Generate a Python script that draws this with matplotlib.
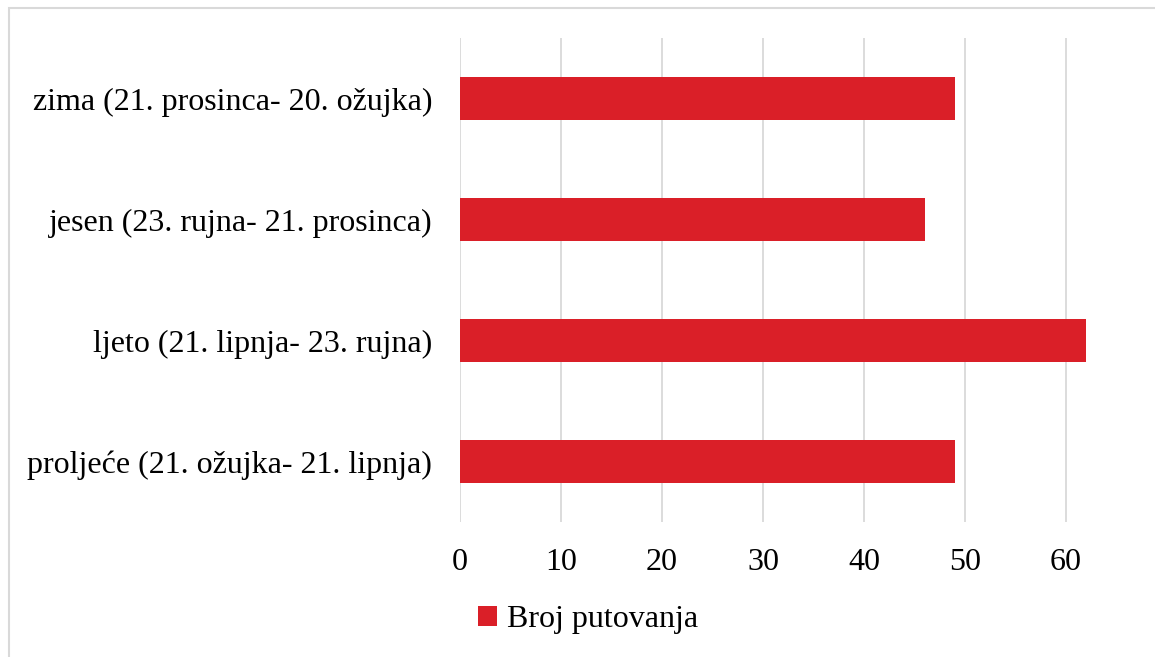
import matplotlib.pyplot as plt
from matplotlib.patches import Rectangle

plt.rcParams["font.family"] = ["Liberation Serif", "DejaVu Serif"]

# podaci
sezone = [
    "proljeće (21. ožujka- 21. lipnja)",
    "ljeto (21. lipnja- 23. rujna)",
    "jesen (23. rujna- 21. prosinca)",
    "zima (21. prosinca- 20. ožujka)",
]
broj_putovanja = [49, 62, 46, 49]
x_ticks = [0, 10, 20, 30, 40, 50, 60]

crvena = "#DA1F28"
siva = "#D9D9D9"

fig = plt.figure(figsize=(11.55, 6.57), dpi=100)
ax = fig.add_axes([460 / 1155, 1 - 522 / 657, 707 / 1155, 484 / 657])

pozicije = list(range(len(sezone)))
bars = ax.barh(pozicije, broj_putovanja, height=0.35, color=crvena,
               label="Broj putovanja", zorder=3)

ax.set_xlim(0, 70)
ax.set_ylim(-0.5, len(sezone) - 0.5)
ax.set_xticks(x_ticks)
ax.set_yticks(pozicije)
ax.set_yticklabels(sezone)
ax.xaxis.grid(True, color=siva, linewidth=1.3, zorder=0)
for s in ax.spines.values():
    s.set_visible(False)
ax.tick_params(axis="x", length=0, pad=19, labelsize=23)
ax.tick_params(axis="y", length=0, pad=20, labelsize=23)

fig.legend(handles=[bars], labels=["Broj putovanja"], loc="center",
           bbox_to_anchor=(588 / 1155, 1 - 620 / 657), frameon=False,
           fontsize=23, handlelength=0.6, handleheight=0.6, handletextpad=0.3)

# okvir grafikona
fig.patches.append(Rectangle((9 / 1155, -0.1), 1.2, 1 - 8 / 657 + 0.1,
                             transform=fig.transFigure, fill=False,
                             edgecolor=siva, linewidth=1.5))

fig.savefig("out.png", dpi=100)
